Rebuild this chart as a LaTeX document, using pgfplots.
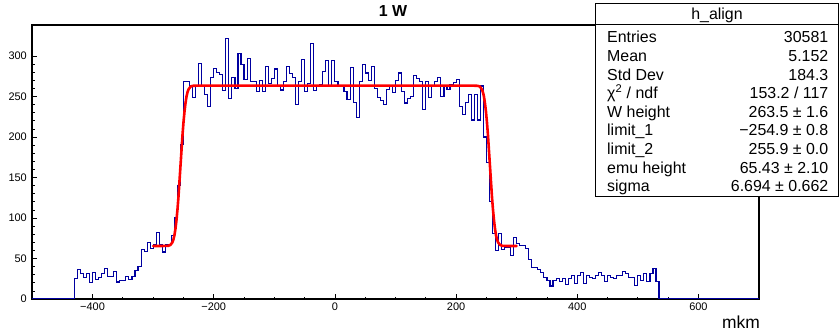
\documentclass[border=0pt]{standalone}
\usepackage{fontspec}
\setmainfont{Liberation Sans}
\usepackage{pgfplots}
\pgfplotsset{compat=1.18}
\usepackage{pgfplotstable}
\definecolor{histblue}{RGB}{0,0,160}
\definecolor{fitred}{RGB}{255,0,0}

\pgfplotstableread{
x y
-500 0
-430 25
-425 36
-420 31
-415 27
-410 32
-405 20
-400 33
-395 24
-390 27
-385 31
-380 38
-375 28
-370 28
-365 34
-360 21
-355 23
-350 23
-345 28
-340 24
-335 28
-330 35
-325 40
-320 61
-315 59
-310 70
-305 62
-300 67
-295 82
-290 67
-285 58
-280 67
-275 67
-270 78
-265 100
-260 140
-255 191
-250 269
-245 268
-240 264
-235 249
-230 263
-225 291
-220 264
-215 253
-210 238
-205 274
-200 285
-195 280
-190 277
-185 257
-180 322
-175 247
-170 274
-165 260
-160 303
-155 290
-150 271
-145 297
-140 268
-135 269
-130 256
-125 270
-120 256
-115 287
-110 266
-105 272
-100 284
-95 263
-90 258
-85 268
-80 287
-75 278
-70 274
-65 240
-60 268
-55 296
-50 256
-45 266
-40 316
-35 257
-30 263
-25 265
-20 281
-15 294
-10 264
-5 294
0 269
5 264
10 262
15 256
20 246
25 286
30 243
35 224
40 268
45 290
50 279
55 270
60 287
65 260
70 249
75 245
80 240
85 259
90 264
95 255
100 270
105 279
110 256
115 242
120 247
125 250
130 276
135 272
140 269
145 234
150 269
155 249
160 263
165 269
170 273
175 250
180 263
185 259
190 265
195 267
200 271
205 238
210 228
215 243
220 253
225 221
230 253
235 221
240 263
245 200
250 169
255 120
260 81
265 60
270 81
275 61
280 64
285 64
290 54
295 76
300 69
305 66
310 66
315 62
320 49
325 39
330 39
335 36
340 33
345 27
350 23
355 16
360 23
365 25
370 22
375 25
380 18
385 25
390 29
395 19
400 29
405 33
410 19
415 29
420 27
425 25
430 29
435 33
440 29
445 22
450 29
455 27
460 25
465 29
470 29
475 34
480 31
485 27
490 27
495 17
500 29
505 23
510 31
515 22
520 31
525 38
530 22
535 0
700 0
}\histdata

\begin{document}
\begin{tikzpicture}
\useasboundingbox (0bp,0bp) rectangle (839bp,332bp);
\begin{axis}[
  at={(32bp,33bp)}, anchor=south west,
  scale only axis, width=727bp, height=274bp,
  xmin=-500, xmax=700, ymin=0, ymax=338.3,
  xtick={-400,-200,0,200,400,600},
  xticklabels={−400,−200,0,200,400,600},
  ytick={0,50,100,150,200,250,300},
  minor x tick num=3, minor y tick num=4,
  tick align=inside, tick pos=left,
  major tick length=5bp, minor tick length=2.5bp,
  tick style={black, line width=0.8bp},
  axis line style={black, line width=1.2bp},
  xticklabel style={font=\fontsize{11}{13}\selectfont, inner sep=0pt, yshift=-4bp},
  yticklabel style={font=\fontsize{11}{13}\selectfont, inner sep=0pt, xshift=-5bp},
  /pgf/number format/assume math mode=true,
  no markers,
]
\addplot[const plot, histblue, line width=1.1bp] table[x=x,y=y]{\histdata};
\addplot[fitred, line width=2.6bp, line join=round, line cap=round] coordinates {
(-300,65.43) (-285,65.45) (-275.0,65.7) (-271.6,66.7) (-268.3,69.9) (-266.6,73.4)
(-264.9,78.7) (-263.3,86.3) (-261.6,96.9) (-259.9,110.3) (-258.2,126.5) (-256.6,144.9)
(-254.9,164.5) (-253.2,184.0) (-251.6,202.4) (-249.9,218.6) (-248.2,232.1) (-246.5,242.6)
(-244.9,250.3) (-243.2,255.6) (-241.5,259.0) (-238.2,262.3) (-234.8,263.2) (-225,263.5)
(225,263.5) (235.8,263.2) (239.2,262.3) (242.5,259.0) (244.2,255.6) (245.9,250.3)
(247.5,242.6) (249.2,232.1) (250.9,218.6) (252.6,202.4) (254.2,184.0) (255.9,164.5)
(257.6,144.9) (259.2,126.5) (260.9,110.3) (262.6,96.9) (264.3,86.3) (265.9,78.7)
(267.6,73.4) (269.3,69.9) (272.6,66.7) (276.0,65.7) (285,65.45) (300,65.43)
};
\end{axis}
% title and axis label
\node[anchor=base, font=\bfseries\fontsize{16}{19}\selectfont] at (393bp,315bp) {1 W};
\node[anchor=base east, font=\fontsize{17.5}{21}\selectfont, inner sep=0pt] at (760bp,3.5bp) {mkm};
% stat box
\fill[white] (595.5bp,328bp) rectangle (838.5bp,135bp);
\draw[black, line width=1bp] (595.5bp,328bp) rectangle (838.5bp,135bp);
\draw[black, line width=1bp] (595.5bp,307bp) -- (838.5bp,307bp);
\begin{scope}[every node/.style={font=\fontsize{16}{18}\selectfont, inner sep=0pt}]
\node[anchor=base] at (717bp,312bp) {h\_align};
\node[anchor=base west] at (607bp,289bp) {Entries};
\node[anchor=base east] at (828.5bp,289bp) {30581};
\node[anchor=base west] at (607bp,270.4bp) {Mean};
\node[anchor=base east] at (828.5bp,270.4bp) {5.152};
\node[anchor=base west] at (607bp,251.8bp) {Std Dev};
\node[anchor=base east] at (828.5bp,251.8bp) {184.3};
\node[anchor=base west] at (607bp,233.2bp) {χ\textsuperscript{2} / ndf};
\node[anchor=base east] at (828.5bp,233.2bp) {153.2 / 117};
\node[anchor=base west] at (607bp,214.6bp) {W height};
\node[anchor=base east] at (828.5bp,214.6bp) {263.5 ± 1.6};
\node[anchor=base west] at (607bp,196bp) {limit\_1};
\node[anchor=base east] at (828.5bp,196bp) {−254.9 ± 0.8};
\node[anchor=base west] at (607bp,177.4bp) {limit\_2};
\node[anchor=base east] at (828.5bp,177.4bp) {255.9 ± 0.0};
\node[anchor=base west] at (607bp,158.8bp) {emu height};
\node[anchor=base east] at (828.5bp,158.8bp) {65.43 ± 2.10};
\node[anchor=base west] at (607bp,140.2bp) {sigma};
\node[anchor=base east] at (828.5bp,140.2bp) {6.694 ± 0.662};
\end{scope}
\end{tikzpicture}
\end{document}
